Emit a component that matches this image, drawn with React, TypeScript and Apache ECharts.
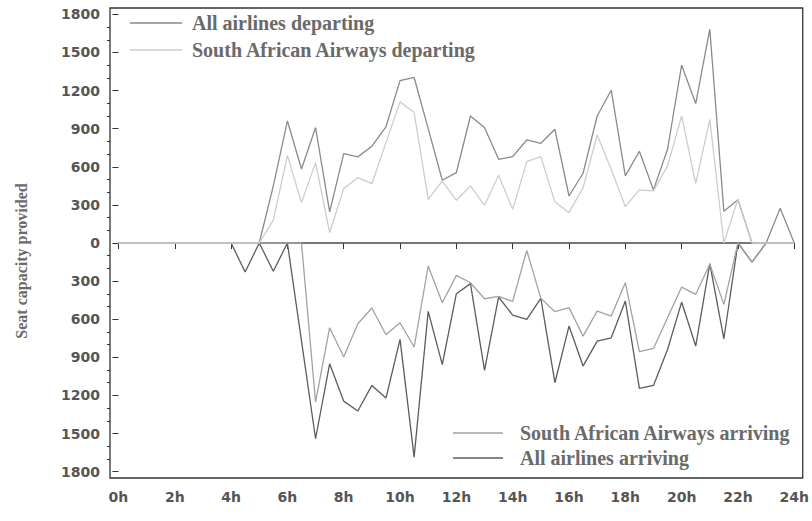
import React, { useEffect, useRef } from "react";
import * as echarts from "echarts";

// Half-hour time points (hours)
const hours = [
  0, 0.5, 1, 1.5, 2, 2.5, 3, 3.5, 4, 4.5, 5, 5.5, 6, 6.5, 7, 7.5, 8, 8.5, 9, 9.5,
  10, 10.5, 11, 11.5, 12, 12.5, 13, 13.5, 14, 14.5, 15, 15.5, 16, 16.5, 17, 17.5,
  18, 18.5, 19, 19.5, 20, 20.5, 21, 21.5, 22, 22.5, 23, 23.5, 24,
];

const allDeparting = [
  0, 0, 0, 0, 0, 0, 0, 0, 0, 0, 0, 450, 961, 583, 909, 245, 704, 678, 762, 915,
  1278, 1303, 900, 494, 554, 1000, 909, 659, 680, 811, 785, 895, 370, 549, 1000, 1203,
  528, 722, 418, 738, 1400, 1098, 1683, 249, 341, 0, 0, 273, 0,
];

const saaDeparting = [
  0, 0, 0, 0, 0, 0, 0, 0, 0, 0, 0, 180, 690, 318, 633, 81, 428, 515, 467, 790,
  1111, 1027, 344, 488, 336, 449, 297, 533, 265, 641, 680, 323, 239, 436, 851, 580,
  286, 418, 410, 607, 1000, 467, 974, 0, 345, 0, 0, 0, 0,
];

const saaArriving = [
  0, 0, 0, 0, 0, 0, 0, 0, 0, 0, 0, 0, 0, 0, -1253, -667, -898, -636, -512, -722,
  -628, -819, -181, -470, -255, -313, -439, -420, -460, -58, -436, -541, -509, -733, -536, -575,
  -312, -856, -830, -588, -347, -404, -168, -483, 0, -150, 0, 0, 0,
];

const allArriving = [
  0, 0, 0, 0, 0, 0, 0, 0, 0, -228, 0, -223, 0, -770, -1541, -951, -1245, -1323, -1121, -1221,
  -759, -1686, -538, -958, -399, -320, -1003, -425, -568, -601, -436, -1100, -654, -969, -772, -746,
  -457, -1145, -1121, -838, -465, -811, -163, -754, 0, -150, 0, 0, 0,
];

const xTickValues = [0, 2, 4, 6, 8, 10, 12, 14, 16, 18, 20, 22, 24];
const yMajorTicks = [-1800, -1500, -1200, -900, -600, -300, 0, 300, 600, 900, 1200, 1500, 1800];
const yMinorTicks = [
  -1700, -1600, -1400, -1300, -1100, -1000, -800, -700, -500, -400, -200, -100,
  100, 200, 400, 500, 700, 800, 1000, 1100, 1300, 1400, 1600, 1700,
];

const seriesNames = [
  "All airlines departing",
  "South African Airways departing",
  "South African Airways arriving",
  "All airlines arriving",
];
const colors = ["#8a8a8a", "#cdcdcd", "#a2a2a2", "#5c5c5c"];

const pair = (vals: number[]) => hours.map((h, i) => [h, vals[i]]);

export default function App() {
  const ref = useRef<HTMLDivElement>(null);
  useEffect(() => {
    if (!ref.current) return;
    const chart = echarts.init(ref.current, undefined, { renderer: "svg" });
    const labelFont = {
      fontFamily: "DejaVu Sans",
      fontWeight: "bold" as const,
      fontSize: 14,
      color: "#555555",
    };
    const legendFont = 'bold 20px "Liberation Serif"';
    const legendColor = "#6a6a6a";
    const lw = 1.3;
    const option: any = {
      animation: false,
      backgroundColor: "#ffffff",
      grid: {
        left: 110,
        right: 9,
        top: 8,
        bottom: 43,
        show: true,
        borderColor: "#333333",
        borderWidth: 1.3,
        backgroundColor: "transparent",
      },
      xAxis: {
        type: "value",
        min: -0.3,
        max: 24.3,
        axisLine: { show: false },
        splitLine: { show: false },
        axisTick: {
          show: true,
          customValues: xTickValues,
          length: 6,
          lineStyle: { color: "#333333", width: 1 },
        },
        axisLabel: {
          customValues: xTickValues,
          formatter: (v: number) => `${v}h`,
          margin: 12,
          ...labelFont,
        },
      },
      yAxis: [
        {
          type: "value",
          min: -1850,
          max: 1850,
          axisLine: { show: false },
          splitLine: { show: false },
          axisTick: {
            show: true,
            customValues: yMajorTicks,
            length: 6,
            lineStyle: { color: "#333333", width: 1 },
          },
          axisLabel: {
            customValues: yMajorTicks,
            formatter: (v: number) => `${Math.abs(v)}`,
            margin: 10,
            ...labelFont,
          },
        },
        {
          type: "value",
          position: "left",
          min: -1850,
          max: 1850,
          axisLine: { show: false },
          splitLine: { show: false },
          axisTick: {
            show: true,
            customValues: yMinorTicks,
            length: 3,
            lineStyle: { color: "#333333", width: 1 },
          },
          axisLabel: { show: false },
        },
      ],
      series: [
        {
          name: "zero",
          type: "line",
          data: [
            [0, 0],
            [24, 0],
          ],
          showSymbol: false,
          silent: true,
          z: 1,
          lineStyle: { color: "#4a4a4a", width: lw },
        },
        {
          name: seriesNames[3],
          type: "line",
          data: pair(allArriving),
          showSymbol: false,
          z: 2,
          lineStyle: { color: colors[3], width: lw },
          itemStyle: { color: colors[3] },
        },
        {
          name: seriesNames[0],
          type: "line",
          data: pair(allDeparting),
          showSymbol: false,
          z: 3,
          lineStyle: { color: colors[0], width: lw },
          itemStyle: { color: colors[0] },
        },
        {
          name: seriesNames[2],
          type: "line",
          data: pair(saaArriving),
          showSymbol: false,
          z: 4,
          lineStyle: { color: colors[2], width: lw },
          itemStyle: { color: colors[2] },
        },
        {
          name: seriesNames[1],
          type: "line",
          data: pair(saaDeparting),
          showSymbol: false,
          z: 5,
          lineStyle: { color: colors[1], width: lw },
          itemStyle: { color: colors[1] },
        },
      ],
      graphic: [
        {
          type: "text",
          x: 21,
          y: 261,
          rotation: Math.PI / 2,
          style: {
            text: "Seat capacity provided",
            font: 'bold 16px "Liberation Serif"',
            fill: legendColor,
            textAlign: "center",
            textVerticalAlign: "middle",
          },
        },
        {
          type: "line",
          shape: { x1: 130, y1: 23, x2: 182, y2: 23 },
          style: { stroke: colors[0], lineWidth: 1.5 },
        },
        {
          type: "text",
          x: 192,
          y: 23,
          style: { text: seriesNames[0], font: legendFont, fill: legendColor, textVerticalAlign: "middle" },
        },
        {
          type: "line",
          shape: { x1: 130, y1: 50, x2: 182, y2: 50 },
          style: { stroke: colors[1], lineWidth: 1.5 },
        },
        {
          type: "text",
          x: 192,
          y: 50,
          style: { text: seriesNames[1], font: legendFont, fill: legendColor, textVerticalAlign: "middle" },
        },
        {
          type: "line",
          shape: { x1: 453, y1: 433, x2: 503, y2: 433 },
          style: { stroke: colors[2], lineWidth: 1.5 },
        },
        {
          type: "text",
          x: 520,
          y: 433,
          style: { text: seriesNames[2], font: legendFont, fill: legendColor, textVerticalAlign: "middle" },
        },
        {
          type: "line",
          shape: { x1: 453, y1: 458, x2: 503, y2: 458 },
          style: { stroke: colors[3], lineWidth: 1.5 },
        },
        {
          type: "text",
          x: 520,
          y: 458,
          style: { text: seriesNames[3], font: legendFont, fill: legendColor, textVerticalAlign: "middle" },
        },
      ],
    };
    chart.setOption(option);
    return () => chart.dispose();
  }, []);
  return (
    <div
      ref={ref}
      style={{ position: "fixed", left: 0, top: 0, width: 812, height: 521, background: "#fff" }}
    />
  );
}
